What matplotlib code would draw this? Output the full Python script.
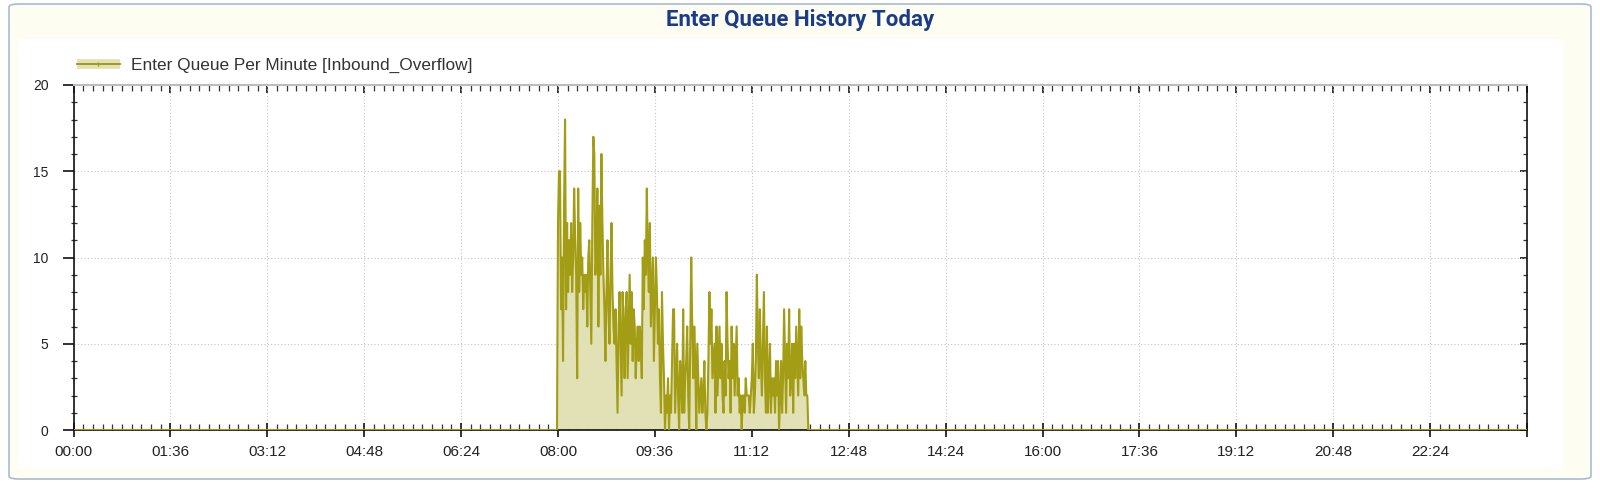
import numpy as np
import matplotlib
matplotlib.use("Agg")
import matplotlib.pyplot as plt
from matplotlib.patches import FancyBboxPatch, Rectangle
from matplotlib.lines import Line2D
from matplotlib.ticker import MultipleLocator, FuncFormatter, NullFormatter

# minutes of the day, data starts at 08:00
day_minutes = 1440
queue_start = 480

# enter queue per minute from 08:00 to 12:07
queue_values = [
    12, 15, 15, 7, 10, 4, 13, 18, 7, 12, 8, 11, 9, 12, 8, 10, 14, 11, 9, 3,
    14, 8, 12, 9, 10, 7, 9, 8, 9, 6, 10, 11, 8, 5, 12, 17, 16, 9, 10, 14,
    6, 13, 9, 16, 12, 9, 7, 4, 8, 11, 7, 5, 9, 12, 8, 6, 5, 7, 4, 1,
    6, 8, 5, 2, 8, 6, 3, 7, 8, 3, 6, 9, 5, 8, 4, 7, 6, 3, 5, 6,
    4, 6, 5, 3, 10, 7, 11, 9, 14, 10, 8, 12, 6, 8, 10, 4, 7, 10, 8, 5,
    7, 3, 1, 8, 5, 3, 0, 2, 1, 3, 0, 2, 1, 4, 7, 7, 1, 3, 5, 2,
    0, 4, 3, 1, 7, 1, 3, 4, 6, 2, 0, 5, 10, 6, 3, 6, 4, 0, 5, 3,
    1, 2, 3, 1, 2, 4, 1, 0, 1, 4, 8, 5, 7, 3, 4, 5, 1, 6, 2, 4,
    6, 3, 5, 2, 1, 4, 2, 8, 5, 3, 4, 1, 6, 3, 5, 2, 4, 6, 2, 3,
    1, 2, 0, 2, 2, 1, 3, 2, 2, 2, 1, 2, 3, 5, 1, 2, 4, 9, 5, 3,
    7, 4, 2, 5, 8, 3, 1, 6, 1, 3, 5, 1, 3, 2, 3, 1, 4, 2, 4, 0,
    2, 4, 1, 3, 7, 4, 1, 5, 3, 7, 2, 3, 5, 1, 5, 3, 6, 4, 2, 7,
    3, 6, 4, 3, 2, 4, 2, 2,
]

minutes = np.arange(day_minutes + 1)
queue = np.zeros(day_minutes + 1)
queue[queue_start:queue_start + len(queue_values)] = queue_values

line_color = "#a39d16"
fill_color = "#e2e1b6"
plt.rcParams["font.family"] = ["Liberation Sans", "DejaVu Sans"]

fig = plt.figure(figsize=(16, 4.91), dpi=100)
fig.patch.set_facecolor("white")

# panel background (cream box with rounded border, white plot area)
W, H = 1600, 491
fig.patches.append(FancyBboxPatch((9 / W, 1 - 479 / H), 1582 / W, 475 / H,
                                  boxstyle="round,pad=0,rounding_size=0.006",
                                  transform=fig.transFigure, facecolor="#fdfdf1",
                                  edgecolor="#a7bccf", linewidth=1.2, zorder=0))
fig.patches.append(Rectangle((18 / W, 1 - 469 / H), 1545 / W, 430 / H,
                             transform=fig.transFigure, facecolor="white",
                             edgecolor="none", zorder=0.5))
fig.patches.append(FancyBboxPatch((1550 / W, -0.02), 32 / W, 8 / H,
                                  boxstyle="round,pad=0,rounding_size=0.004",
                                  transform=fig.transFigure, facecolor="#dce8f5",
                                  edgecolor="#8eaed0", linewidth=1.0, zorder=0.5))

fig.text(0.5, 1 - 20 / H, "Enter Queue History Today", ha="center", va="center",
         fontsize=16, fontweight="bold", color="#1a3a8c", family="Roboto")

ax = fig.add_axes([73.5 / W, 1 - 430 / H, 1453.5 / W, 345 / H])
ax.set_zorder(2)
ax.set_facecolor("white")

ax.fill_between(minutes, queue, 0, color=fill_color, linewidth=0, zorder=2)
ax.plot(minutes, queue, color=line_color, linewidth=1.5, zorder=3)

ax.set_xlim(0, day_minutes)
ax.set_ylim(0, 20)

ax.xaxis.set_major_locator(MultipleLocator(96))
ax.xaxis.set_minor_locator(MultipleLocator(9.6))
ax.yaxis.set_major_locator(MultipleLocator(5))
ax.yaxis.set_minor_locator(MultipleLocator(1))


def hhmm(v, pos):
    if v >= day_minutes:
        return ""
    return "%02d:%02d" % (int(v) // 60, int(v) % 60)


ax.xaxis.set_major_formatter(FuncFormatter(hhmm))

ax.grid(True, which="major", linestyle=(0, (1, 2)), color="#c4c4c4", linewidth=0.8, zorder=1)

for side in ["left", "bottom", "right"]:
    ax.spines[side].set_color("#111111")
    ax.spines[side].set_linewidth(1.2)
ax.spines["top"].set_color("#bdbdbd")
ax.spines["top"].set_linewidth(1.5)

ax.tick_params(axis="x", which="major", direction="inout", length=10, width=1.2,
               color="#111111", labelsize=11, labelcolor="#222222", pad=6)
ax.tick_params(axis="x", which="minor", direction="in", length=4, width=0.9,
               color="#333333")
ax.tick_params(axis="y", which="major", direction="out", length=8, width=1.2,
               color="#111111", labelsize=10, labelcolor="#222222", pad=10)
ax.tick_params(axis="y", which="minor", direction="inout", length=5, width=0.9,
               color="#333333")

# top and right axes only carry inward ticks
top = ax.secondary_xaxis("top")
top.xaxis.set_major_locator(MultipleLocator(96))
top.xaxis.set_minor_locator(MultipleLocator(9.6))
top.xaxis.set_major_formatter(NullFormatter())
top.spines["top"].set_visible(False)
top.tick_params(which="major", direction="in", length=6, width=1.2, color="#111111")
top.tick_params(which="minor", direction="in", length=4, width=0.9, color="#333333")

right = ax.secondary_yaxis("right")
right.yaxis.set_major_locator(MultipleLocator(5))
right.yaxis.set_minor_locator(MultipleLocator(1))
right.yaxis.set_major_formatter(NullFormatter())
right.spines["right"].set_visible(False)
right.tick_params(which="major", direction="in", length=5, width=1.2, color="#111111")
right.tick_params(which="minor", direction="in", length=3, width=0.9, color="#333333")

band = Line2D([], [], color=fill_color, linewidth=7, solid_capstyle="butt")
thin = Line2D([], [], color=line_color, linewidth=1.4, marker="|", markersize=3)
ax.legend([(band, thin)], ["Enter Queue Per Minute [Inbound_Overflow]"],
          loc="lower left", bbox_to_anchor=(0, 1.025), frameon=False,
          fontsize=12.4, handlelength=2.5, handletextpad=0.65, borderaxespad=0,
          borderpad=0.2, labelcolor="#333333")

fig.savefig("out.png", dpi=100)
